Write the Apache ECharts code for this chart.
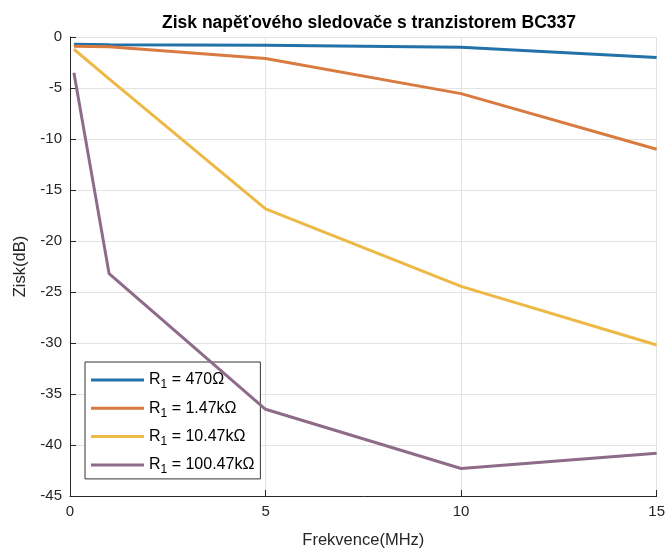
<!DOCTYPE html>
<html>
<head>
<meta charset="utf-8">
<script src="https://cdn.jsdelivr.net/npm/echarts@6/dist/echarts.min.js"></script>
<style>html,body{margin:0;padding:0;background:#fff}#c{width:668px;height:554px}</style>
</head>
<body>
<div id="c"></div>
<script>
var freqs = [0.1, 1, 5, 10, 15];
var r470 = [-0.7, -0.75, -0.8, -1.0, -2.0];
var r1k47 = [-0.9, -0.95, -2.1, -5.55, -11.0];
var r10k47 = [-1.2, -4.1, -16.85, -24.45, -30.2];
var r100k47 = [-3.5, -23.2, -36.5, -42.3, -40.8];
var seriesNames = ['470Ω', '1.47kΩ', '10.47kΩ', '100.47kΩ'];
var xTicks = [0, 5, 10, 15];
var yTicks = [0, -5, -10, -15, -20, -25, -30, -35, -40, -45];

var colors = ['#2271a8', '#d97a40', '#edb845', '#8e6b88'];
var allData = [r470, r1k47, r10k47, r100k47];

function pairs(ys) { return freqs.map(function (f, i) { return [f, ys[i]]; }); }

var chart = echarts.init(document.getElementById('c'), null, { renderer: 'canvas' });
var font = 'Liberation Sans, Arial, Helvetica, sans-serif';
chart.setOption({
  animation: false,
  backgroundColor: '#ffffff',
  textStyle: { fontFamily: font },
  title: {
    text: 'Zisk napěťového sledovače s tranzistorem BC337',
    left: 364, top: 9, textAlign: 'center',
    textStyle: { fontSize: 17.5, fontWeight: 'bold', color: '#000', fontFamily: font }
  },
  grid: { left: 70, right: 10, top: 37, bottom: 57, containLabel: false },
  legend: {
    orient: 'vertical', left: 85, top: 362,
    backgroundColor: '#fff', borderColor: '#333', borderWidth: 1,
    padding: [7, 6, 3, 6], itemGap: 6.3, itemWidth: 53, itemHeight: 3, icon: 'rect',
    data: seriesNames,
    formatter: function (n) { return '{r|R}{s|1}{r| = ' + n + '}'; },
    textStyle: {
      fontFamily: font, color: '#000',
      rich: {
        r: { fontSize: 16, lineHeight: 20, color: '#000', fontFamily: font },
        s: { fontSize: 12, lineHeight: 20, color: '#000', fontFamily: font, padding: [10, 0, 0, 0] }
      }
    }
  },
  xAxis: {
    type: 'value', min: 0, max: 15, interval: 5,
    name: 'Frekvence(MHz)', nameLocation: 'middle', nameGap: 36,
    nameTextStyle: { fontSize: 16.5, color: '#262626', fontFamily: font },
    axisLine: { show: true, onZero: false, lineStyle: { color: '#262626', width: 1 } },
    axisTick: { show: true, inside: true, length: 6, lineStyle: { color: '#262626' } },
    axisLabel: { fontSize: 15, color: '#262626', margin: 8, fontFamily: font,
      formatter: function (v) { return xTicks.indexOf(v) >= 0 ? String(v) : ''; } },
    splitLine: { show: true, lineStyle: { color: '#e3e3e3', width: 1 } }
  },
  yAxis: {
    type: 'value', min: -45, max: 0, interval: 5,
    name: 'Zisk(dB)', nameLocation: 'middle', nameGap: 33, nameRotate: 90,
    nameTextStyle: { fontSize: 16.5, color: '#262626', fontFamily: font },
    axisLine: { show: true, onZero: false, lineStyle: { color: '#262626', width: 1 } },
    axisTick: { show: true, inside: true, length: 6, lineStyle: { color: '#262626' } },
    axisLabel: { fontSize: 15, color: '#262626', margin: 8, fontFamily: font,
      formatter: function (v) { return yTicks.indexOf(v) >= 0 ? String(v) : ''; } },
    splitLine: { show: true, lineStyle: { color: '#e3e3e3', width: 1 } }
  },
  series: seriesNames.map(function (n, i) {
    return {
      name: n, type: 'line', data: pairs(allData[i]),
      showSymbol: false, symbol: 'none', smooth: false,
      lineStyle: { color: colors[i], width: 3 }, itemStyle: { color: colors[i] },
      z: 2 + i
    };
  })
});
</script>
</body>
</html>
